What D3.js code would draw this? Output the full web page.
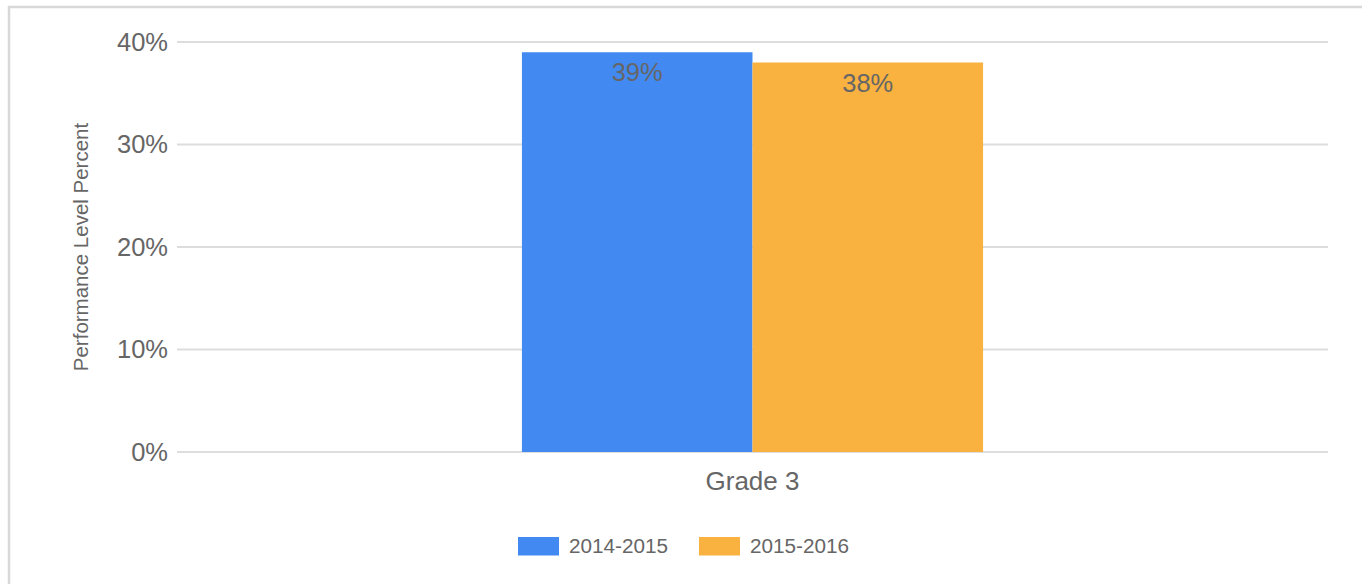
<!DOCTYPE html>
<html>
<head>
<meta charset="utf-8">
<script src="https://cdn.jsdelivr.net/npm/d3@7"></script>
<style>
  html, body { margin: 0; padding: 0; background: #fff; }
  svg { display: block; font-family: "Liberation Sans", Arial, sans-serif; }
</style>
</head>
<body>
<svg id="chart" width="1362" height="584"></svg>
<script>
const categories = ["Grade 3"];
const seriesNames = ["2014-2015", "2015-2016"];
const values2014 = [0.39];
const values2015 = [0.38];
const yTicks = [0, 0.1, 0.2, 0.3, 0.4];
const seriesColors = ["#4289f1", "#f9b13f"];

const seriesValues = [values2014, values2015];
const svg = d3.select("#chart");
const textColor = "#666666";

// outer border (top and left)
svg.append("path")
  .attr("d", "M9,584V7H1362")
  .attr("fill", "none")
  .attr("stroke", "#d8d8d8")
  .attr("stroke-width", 2.5);

const plot = { left: 177, right: 1328, top: 42, bottom: 452 };

const x = d3.scaleBand().domain(categories)
  .range([plot.left, plot.right]).paddingInner(0).paddingOuter(0.748);
const xs = d3.scaleBand().domain(seriesNames).range([0, x.bandwidth()]).padding(0);
const y = d3.scaleLinear().domain([0, 0.4]).range([plot.bottom, plot.top]);
const fmt = d3.format(".0%");

// gridlines
svg.append("g").selectAll("line").data(yTicks).join("line")
  .attr("x1", plot.left).attr("x2", plot.right)
  .attr("y1", d => y(d)).attr("y2", d => y(d))
  .attr("stroke", "#dddddd").attr("stroke-width", 2);

// y axis labels
const yAxis = d3.axisLeft(y).tickValues(yTicks).tickFormat(fmt).tickSize(0).tickPadding(9);
const yg = svg.append("g").attr("transform", `translate(${plot.left},0)`).call(yAxis);
yg.select(".domain").remove();
yg.selectAll("text").attr("fill", textColor).attr("font-size", 25.5)
  .attr("font-family", "Liberation Sans, Arial, sans-serif");

// bars
const groups = svg.append("g").selectAll("g").data(categories).join("g")
  .attr("transform", c => `translate(${x(c)},0)`);
seriesNames.forEach((s, si) => {
  groups.append("rect")
    .attr("x", xs(s))
    .attr("width", xs.bandwidth())
    .attr("y", (c, ci) => y(seriesValues[si][ci]))
    .attr("height", (c, ci) => y(0) - y(seriesValues[si][ci]))
    .attr("fill", seriesColors[si]);
  groups.append("text")
    .attr("x", xs(s) + xs.bandwidth() / 2)
    .attr("y", (c, ci) => y(seriesValues[si][ci]) + 29)
    .attr("text-anchor", "middle")
    .attr("font-size", 25.5)
    .attr("fill", textColor)
    .text((c, ci) => fmt(seriesValues[si][ci]));
});

// x axis labels
const xAxis = d3.axisBottom(x).tickSize(0).tickPadding(20);
const xg = svg.append("g").attr("transform", `translate(0,${plot.bottom})`).call(xAxis);
xg.select(".domain").remove();
xg.selectAll("text").attr("fill", textColor).attr("font-size", 26)
  .attr("font-family", "Liberation Sans, Arial, sans-serif");

// y axis title
svg.append("text")
  .attr("transform", `translate(88,247) rotate(-90)`)
  .attr("text-anchor", "middle")
  .attr("font-size", 20.5)
  .attr("fill", textColor)
  .text("Performance Level Percent");

// legend
const legendX = [518, 699];
const leg = svg.append("g").selectAll("g").data(seriesNames).join("g")
  .attr("transform", (d, i) => `translate(${legendX[i]},537)`);
leg.append("rect").attr("width", 41).attr("height", 18.5)
  .attr("fill", (d, i) => seriesColors[i]);
leg.append("text").attr("x", 51).attr("y", 16)
  .attr("font-size", 20.7).attr("fill", textColor)
  .text(d => d);
</script>
</body>
</html>
